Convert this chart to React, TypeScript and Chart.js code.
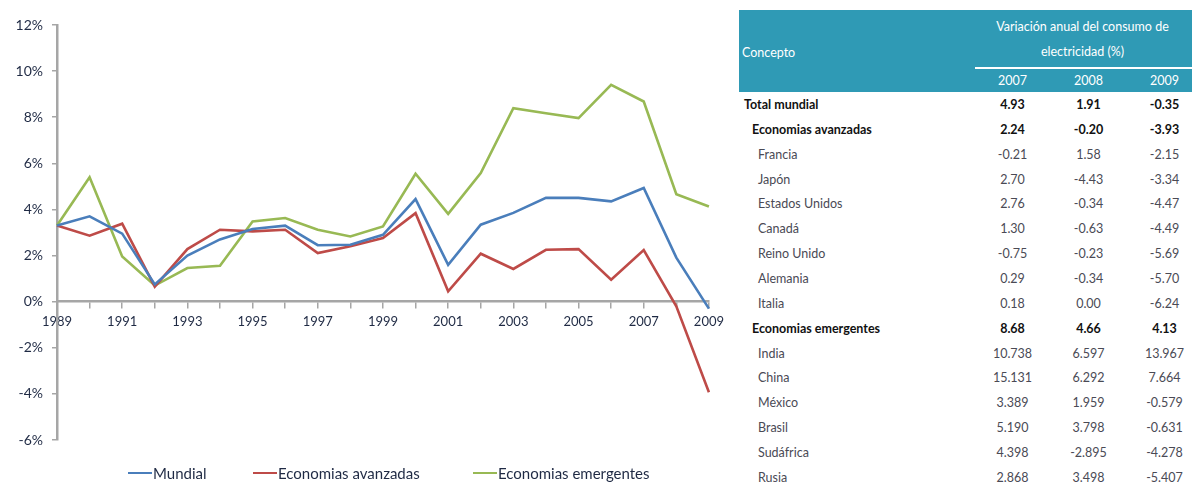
import React, { useEffect, useRef } from "react";
import { Chart, registerables } from "chart.js";

Chart.register(...registerables);

// ---- Chart data ----
const years = ["1989", "1990", "1991", "1992", "1993", "1994", "1995", "1996", "1997", "1998", "1999", "2000", "2001", "2002", "2003", "2004", "2005", "2006", "2007", "2008", "2009"];
const mundial = [3.3, 3.7, 2.95, 0.75, 2.0, 2.7, 3.15, 3.3, 2.45, 2.47, 2.9, 4.45, 1.6, 3.34, 3.85, 4.5, 4.5, 4.35, 4.93, 1.91, -0.3];
const avanzadas = [3.3, 2.86, 3.38, 0.65, 2.28, 3.12, 3.05, 3.12, 2.11, 2.4, 2.76, 3.84, 0.45, 2.08, 1.42, 2.25, 2.28, 0.95, 2.24, -0.2, -3.93];
const emergentes = [3.3, 5.4, 1.96, 0.7, 1.46, 1.56, 3.48, 3.63, 3.12, 2.83, 3.26, 5.55, 3.81, 5.58, 8.39, 8.17, 7.96, 9.4, 8.68, 4.66, 4.13];
const seriesNames = ["Mundial", "Economias avanzadas", "Economias emergentes"];
const seriesColors = ["#4a7ebb", "#be4b48", "#98b954"];
const yMin = -6;
const yMax = 12;
const yStep = 2;

// ---- Table data ----
const tableHeaderConcept = "Concepto";
const tableHeaderTitle = ["Variación anual del consumo de", "electricidad (%)"];
const tableYears = ["2007", "2008", "2009"];
const tableConcepts = ["Total mundial", "Economias avanzadas", "Francia", "Japón", "Estados Unidos", "Canadá", "Reino Unido", "Alemania", "Italia", "Economias emergentes", "India", "China", "México", "Brasil", "Sudáfrica", "Rusia"];
const tableLevels = [0, 1, 2, 2, 2, 2, 2, 2, 2, 1, 2, 2, 2, 2, 2, 2];
const table2007 = ["4.93", "2.24", "-0.21", "2.70", "2.76", "1.30", "-0.75", "0.29", "0.18", "8.68", "10.738", "15.131", "3.389", "5.190", "4.398", "2.868"];
const table2008 = ["1.91", "-0.20", "1.58", "-4.43", "-0.34", "-0.63", "-0.23", "-0.34", "0.00", "4.66", "6.597", "6.292", "1.959", "3.798", "-2.895", "3.498"];
const table2009 = ["-0.35", "-3.93", "-2.15", "-3.34", "-4.47", "-4.49", "-5.69", "-5.70", "-6.24", "4.13", "13.967", "7.664", "-0.579", "-0.631", "-4.278", "-5.407"];

const FONT = "Lato, 'Open Sans', sans-serif";

function LineChart() {
  const ref = useRef<HTMLCanvasElement | null>(null);
  useEffect(() => {
    if (!ref.current) return;
    const series = [mundial, avanzadas, emergentes];
    const chart = new Chart(ref.current, {
      type: "line",
      data: {
        labels: years,
        datasets: series.map((d, i) => ({
          label: seriesNames[i],
          data: d,
          borderColor: seriesColors[i],
          backgroundColor: seriesColors[i],
          borderWidth: 2.6,
          pointRadius: 0,
          tension: 0,
          fill: false,
        })),
      },
      options: {
        animation: false,
        responsive: true,
        maintainAspectRatio: false,
        layout: { padding: { left: 0, top: 25, right: 20, bottom: 47 } },
        plugins: { legend: { display: false }, tooltip: { enabled: false } },
        scales: {
          x: {
            type: "category",
            position: { y: 0 },
            offset: false,
            grid: {
              drawOnChartArea: false,
              drawTicks: true,
              tickLength: 6,
              color: "#a6a6a6",
              lineWidth: 1.5,
            },
            border: { color: "#a6a6a6", width: 2.5 },
            ticks: {
              autoSkip: false,
              maxRotation: 0,
              padding: 6,
              color: "#1f2a44",
              font: { family: FONT, size: 13 },
              callback: (_v: any, i: number) => (i % 2 === 0 ? years[i] : ""),
            },
          },
          y: {
            min: yMin,
            max: yMax,
            afterFit: (scale: any) => {
              scale.width = 57;
            },
            grid: {
              drawOnChartArea: false,
              drawTicks: true,
              tickLength: 5,
              color: "#a6a6a6",
              lineWidth: 1.5,
            },
            border: { color: "#a6a6a6", width: 2.5 },
            ticks: {
              stepSize: yStep,
              padding: 9,
              color: "#1f2a44",
              font: { family: FONT, size: 14 },
              callback: (v: any) => `${v}%`,
            },
          },
        },
      },
    });
    return () => chart.destroy();
  }, []);
  return <canvas ref={ref} />;
}

function Legend() {
  const slots = [125, 220, 220];
  return (
    <div
      style={{
        position: "absolute",
        left: 128,
        top: 462,
        display: "flex",
        fontFamily: FONT,
        fontSize: 15,
        color: "#1f2a44",
        lineHeight: "22px",
      }}
    >
      {seriesNames.map((n, i) => (
        <div key={n} style={{ width: slots[i], display: "flex", alignItems: "center" }}>
          <span style={{ display: "inline-block", width: 24, height: 2, background: seriesColors[i], marginRight: 1 }} />
          <span>{n}</span>
        </div>
      ))}
    </div>
  );
}

function DataTable() {
  const headCell: React.CSSProperties = { color: "#ffffff", fontWeight: 400, padding: 0 };
  return (
    <table
      style={{
        position: "absolute",
        left: 739,
        top: 10,
        width: 463,
        borderCollapse: "collapse",
        tableLayout: "fixed",
        fontFamily: FONT,
        fontSize: 12.5,
      }}
    >
      <colgroup>
        <col style={{ width: 236 }} />
        <col style={{ width: 75 }} />
        <col style={{ width: 77 }} />
        <col style={{ width: 75 }} />
      </colgroup>
      <thead style={{ background: "#2f9ab5" }}>
        <tr style={{ height: 58 }}>
          <th rowSpan={2} style={{ ...headCell, textAlign: "left", paddingLeft: 3, paddingTop: 2 }}>
            {tableHeaderConcept}
          </th>
          <th colSpan={3} style={{ ...headCell, textAlign: "center", lineHeight: "25px", borderBottom: "2px solid #ffffff", paddingRight: 12 }}>
            {tableHeaderTitle[0]}
            <br />
            {tableHeaderTitle[1]}
          </th>
        </tr>
        <tr style={{ height: 24 }}>
          {tableYears.map((y) => (
            <th key={y} style={{ ...headCell, textAlign: "center" }}>
              {y}
            </th>
          ))}
        </tr>
      </thead>
      <tbody>
        {tableConcepts.map((c, i) => {
          const lvl = tableLevels[i];
          const bold = lvl < 2;
          const color = bold ? "#111111" : "#4a4a55";
          const cell: React.CSSProperties = {
            padding: 0,
            color,
            fontWeight: bold ? 700 : 400,
            textAlign: "center",
            whiteSpace: "nowrap",
          };
          return (
            <tr key={c} style={{ height: 24.87 }}>
              <td style={{ ...cell, textAlign: "left", paddingLeft: lvl === 0 ? 5 : lvl === 1 ? 13 : 19 }}>{c}</td>
              <td style={cell}>{table2007[i]}</td>
              <td style={cell}>{table2008[i]}</td>
              <td style={cell}>{table2009[i]}</td>
            </tr>
          );
        })}
      </tbody>
    </table>
  );
}

export default function App() {
  return (
    <div
      style={{
        position: "absolute",
        left: 0,
        top: 0,
        width: 1192,
        height: 487,
        overflow: "hidden",
        background: "#ffffff",
      }}
    >
      <div style={{ position: "absolute", left: 0, top: 0, width: 730, height: 487 }}>
        <LineChart />
      </div>
      <Legend />
      <DataTable />
    </div>
  );
}
